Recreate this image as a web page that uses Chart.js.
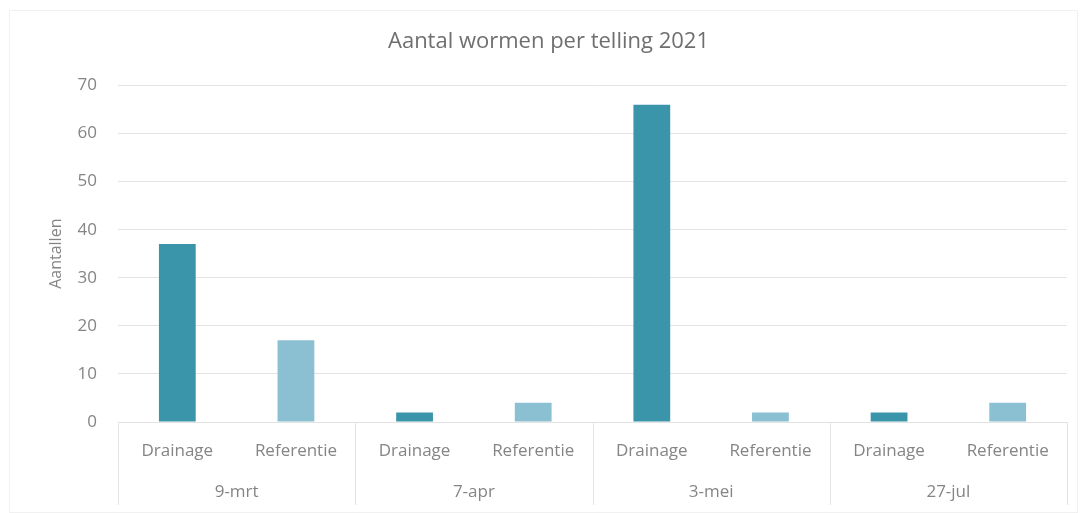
<!DOCTYPE html>
<html>
<head>
<meta charset="utf-8">
<script src="https://cdn.jsdelivr.net/npm/chart.js@4/dist/chart.umd.min.js"></script>
<style>
	html, body { margin: 0; padding: 0; background: #fff; }
	#wrap { width: 1085px; height: 513px; position: relative; }
</style>
</head>
<body>
<div id="wrap"><canvas id="chart"></canvas></div>
<script>
var groups = ['9-mrt', '7-apr', '3-mei', '27-jul'];
var series = ['Drainage', 'Referentie'];
var drainage = [37, 2, 66, 2];
var referentie = [17, 4, 2, 4];
var seriesColors = ['#3a95ab', '#8bbfd2'];

// one bar per (date, series) pair, in the order they sit on the axis
var labels = [];
var values = [];
var colors = [];
groups.forEach(function(g, i) {
	labels.push(series[0], series[1]);
	values.push(drainage[i], referentie[i]);
	colors.push(seriesColors[0], seriesColors[1]);
});

var fontFamily = '"Open Sans", sans-serif';
var textColor = '#858585';
var lineColor = '#e3e3e3';

// faint frame round the whole chart
var chartFrame = {
	id: 'chartFrame',
	beforeDraw: function(chart) {
		var ctx = chart.ctx;
		ctx.save();
		ctx.strokeStyle = '#f1f1f1';
		ctx.lineWidth = 1;
		ctx.strokeRect(9.5, 10.5, chart.width - 17, chart.height - 11);
		ctx.restore();
	}
};

// vertical dividers between the date groups under the plot
var groupDividers = {
	id: 'groupDividers',
	afterDraw: function(chart) {
		var x = chart.scales.x;
		var ctx = chart.ctx;
		var per = series.length;
		ctx.save();
		ctx.strokeStyle = lineColor;
		ctx.lineWidth = 1;
		for (var i = 0; i <= groups.length; i++) {
			var px = Math.round(x.getPixelForValue(i * per - 0.5)) + 0.5;
			ctx.beginPath();
			ctx.moveTo(px, chart.chartArea.bottom);
			ctx.lineTo(px, chart.height - 8);
			ctx.stroke();
		}
		ctx.restore();
	}
};

var ctx = document.getElementById('chart').getContext('2d');
var chart = new Chart(ctx, {
	type: 'bar',
	data: {
		labels: labels,
		datasets: [{
			data: values,
			backgroundColor: colors,
			barPercentage: 0.31,
			categoryPercentage: 1
		}]
	},
	options: {
		responsive: true,
		maintainAspectRatio: false,
		animation: false,
		layout: { padding: { left: 30, right: 18, top: 0, bottom: 8 } },
		plugins: {
			legend: { display: false },
			tooltip: { enabled: false },
			title: {
				display: true,
				text: 'Aantal wormen per telling 2021',
				color: '#6f6f6f',
				font: { family: fontFamily, size: 22, weight: 'normal' },
				padding: { top: 29, bottom: 30 }
			}
		},
		scales: {
			y: {
				min: 0,
				max: 70,
				afterFit: function(scale) { scale.width = 88; },
				ticks: {
					stepSize: 10,
					color: textColor,
					padding: 21,
					font: { family: fontFamily, size: 17 }
				},
				grid: { color: lineColor, drawTicks: false },
				border: { display: false },
				title: {
					display: true,
					text: 'Aantallen',
					color: textColor,
					font: { family: fontFamily, size: 16 },
					padding: { top: 17, bottom: 0 }
				}
			},
			x: {
				afterFit: function(scale) { scale.height = 40; },
				grid: { display: false, drawTicks: false },
				border: { display: true, color: lineColor },
				ticks: {
					color: textColor,
					padding: 19,
					maxRotation: 0,
					autoSkip: false,
					font: { family: fontFamily, size: 17 }
				}
			},
			x2: {
				type: 'category',
				labels: groups,
				position: 'bottom',
				offset: true,
				afterFit: function(scale) { scale.height = 43; },
				grid: { display: false, drawTicks: false },
				border: { display: false },
				ticks: {
					color: textColor,
					padding: 20,
					font: { family: fontFamily, size: 17 }
				}
			}
		}
	},
	plugins: [chartFrame, groupDividers]
});
</script>
</body>
</html>
